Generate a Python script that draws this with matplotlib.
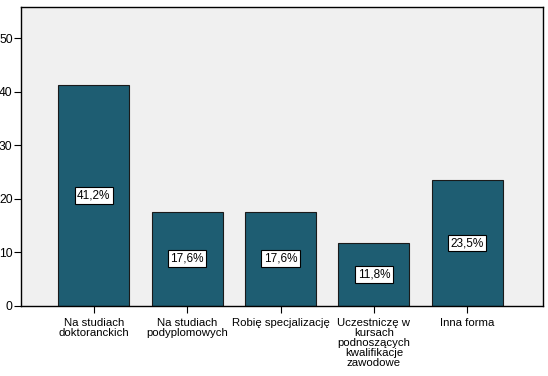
import matplotlib
matplotlib.use("Agg")
import matplotlib.pyplot as plt

categories = ["Na studiach\ndoktoranckich", "Na studiach\npodyplomowych", "Robię specjalizację",
              "Uczestniczę w\nkursach\npodnoszących\nkwalifikacje\nzawodowe", "Inna forma"]
percent = [41.2, 17.6, 17.6, 11.8, 23.5]
yticks = [0, 10, 20, 30, 40, 50]

BAR, BG = "#1e5d72", "#f0f0f0"
FS = 8.2
plt.rcParams["font.family"] = "Liberation Sans"

fig = plt.figure(figsize=(5.48, 3.76), dpi=100)
ax = fig.add_axes([21 / 548, 70 / 376, 522 / 548, 299 / 376])
ax.set_facecolor(BG)
x = range(len(categories))
bars = ax.bar(x, percent, width=0.76, color=BAR, edgecolor="#1a1a1a", linewidth=0.8, zorder=2)
for b, v in zip(bars, percent):
    ax.text(b.get_x() + b.get_width() / 2, v / 2, f"{v:.1f}%".replace(".", ","),
            ha="center", va="center", fontsize=FS + 0.3, color="black", zorder=3,
            bbox=dict(boxstyle="square,pad=0.2", fc="white", ec="black", lw=0.8))
ax.set_xlim(-0.78, 4.81)
ax.set_ylim(0, 55.8)
ax.set_yticks(yticks)
ax.set_xticks(list(x))
ax.set_xticklabels(categories, fontsize=FS, linespacing=1.0, va="top")
ax.tick_params(axis="y", labelsize=FS + 0.5, length=5, pad=1)
ax.tick_params(axis="x", length=5, pad=4)
for s in ax.spines.values():
    s.set_color("black")
    s.set_linewidth(1)
fig.savefig("out.png", dpi=100, facecolor="white")
